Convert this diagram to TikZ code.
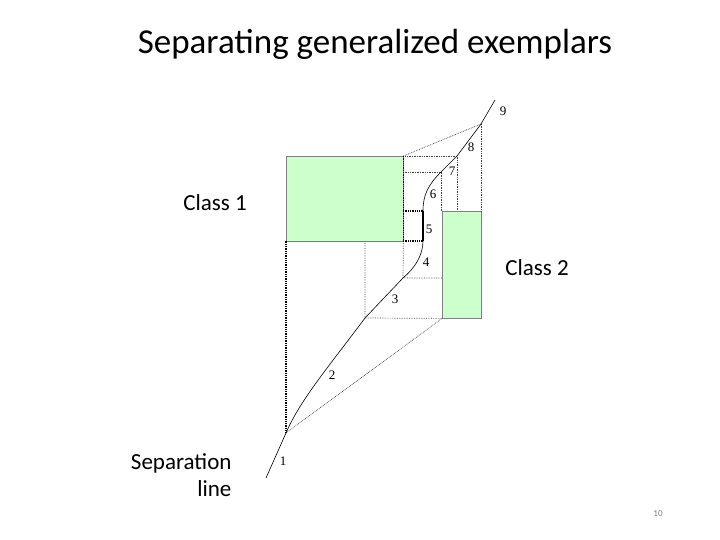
\documentclass[tikz,border=0pt]{standalone}
\usepackage{fontspec}
\setmainfont{Carlito}
\newfontfamily\serifnum{Liberation Serif}
\begin{document}
\begin{tikzpicture}[x=1pt,y=-1pt,
  dots/.style={densely dotted,black!75,line width=0.7pt},
  heavydots/.style={densely dotted,black,line width=1.3pt},
  box/.style={fill=green!20,draw=gray},
  num/.style={font=\serifnum\fontsize{13}{13}\selectfont},
  lbl/.style={font=\fontsize{23}{27}\selectfont}]
\useasboundingbox (0,0) rectangle (720,540);
\node[font=\fontsize{35}{38}\selectfont] (title) at (375,44) {Separating generalized exemplars};
\node[box,minimum width=117pt,minimum height=85pt,inner sep=0,anchor=north west] (c1) at (286,156) {};
\node[box,minimum width=39pt,minimum height=107pt,inner sep=0,anchor=north west] (c2) at (442,211) {};
\coordinate (p9) at (495,100);
\coordinate (p8) at (481,124);
\coordinate (p7) at (457,156);
\coordinate (p6) at (441,172);
\coordinate (p5a) at (423,211);
\coordinate (p5b) at (423,241);
\coordinate (p4) at (403,278);
\coordinate (p3) at (365,318);
\coordinate (p2) at (286,433);
\coordinate (p1) at (266,478);
% dotted construction
\draw[dots] (c1.north east) -- (p8);
\draw[dots] (c1.north east) -- (p7) -- (457,211);
\draw[dots] (403,172) -- (p6) -- (441,211);
\draw[dots] (p8) -- (481,211);
\draw[heavydots] (c1.north east) -- (c1.south east);
\draw[dots] (c1.south east) -- (p4) -- (442,278);
\draw[heavydots] (403,211) -- (p5a);
\draw[heavydots] (403,241) -- (p5b);
\draw[dots] (c1.south east -| p3) -- (p3) -- (c2.south west);
\draw[heavydots] (c1.south west) -- (p2);
\draw[dots] (p2) -- (c2.south west);
% separation line
\draw[line width=0.6pt] (p9) -- (p8) -- (p7) -- (p6)
  .. controls (428,185) and (423,195) .. (p5a);
\draw[line width=1.3pt] (p5a) -- (p5b);
\draw[line width=0.6pt] (p5b) .. controls (423,255) and (415,268) .. (p4) -- (p3)
  .. controls (330,365) and (300,400) .. (p2) -- (p1);
% numbers
\node[num] (n9) at (503,111) {9};
\node[num] (n8) at (471,147) {8};
\node[num] (n7) at (452,171) {7};
\node[num] (n6) at (433,194) {6};
\node[num] (n5) at (429,229) {5};
\node[num] (n4) at (426,262) {4};
\node[num] (n3) at (395,299) {3};
\node[num] (n2) at (332,375) {2};
\node[num] (n1) at (283,461) {1};
\node[lbl] (l1) at (215,203) {Class 1};
\node[lbl] (l2) at (537,268) {Class 2};
\node[lbl,align=right,anchor=east] (l3) at (235,475) {Separation\\line};
\node[font=\fontsize{9}{9}\selectfont,text=gray] (pg) at (658,514) {10};
\end{tikzpicture}
\end{document}
